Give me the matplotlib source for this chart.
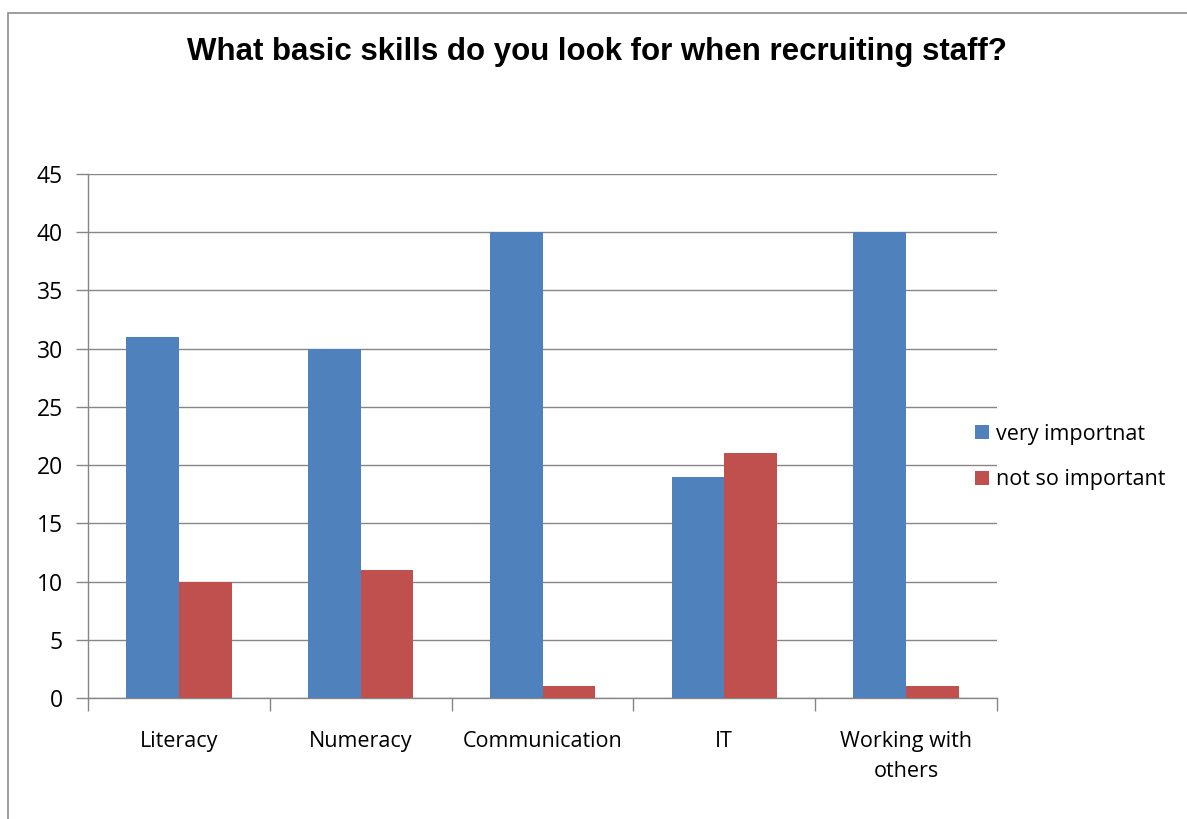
import numpy as np
import matplotlib
matplotlib.use('agg')
import matplotlib.pyplot as plt
from matplotlib.patches import Rectangle

categories = ['Literacy', 'Numeracy', 'Communication', 'IT', 'Working with\nothers']
very_important = [31, 30, 40, 19, 40]
not_so_important = [10, 11, 1, 21, 1]
series_names = ['very importnat', 'not so important']

BLUE = '#4F81BD'
RED = '#C0504D'
GRID = '#868686'
FS = 15.5

plt.rcParams['font.family'] = ['Open Sans', 'DejaVu Sans']

fig = plt.figure(figsize=(11.87, 8.19), dpi=100)
# chart area border (only left and top edges fall inside the image)
fig.patches.append(Rectangle((8 / 1187, -0.1), 1.2, (819 - 13) / 819 + 0.1,
                             transform=fig.transFigure, fill=False,
                             edgecolor='#8c8c8c', lw=1.2))

ax = fig.add_axes([88 / 1187, 121 / 819, 909 / 1187, 524 / 819])

x = np.arange(len(categories))
w = 0.29
ax.bar(x - w / 2, very_important, w, color=BLUE, label=series_names[0], zorder=3)
ax.bar(x + w / 2, not_so_important, w, color=RED, label=series_names[1], zorder=3)

ax.set_xlim(-0.5, len(categories) - 0.5)
ax.set_ylim(0, 45)
ax.set_yticks(range(0, 46, 5))
ax.yaxis.grid(True, color=GRID, lw=1, zorder=0)
ax.set_axisbelow(True)

# category labels between boundary ticks
ax.set_xticks(np.arange(-0.5, len(categories), 1.0))
ax.set_xticklabels([])
ax.set_xticks(x, minor=True)
ax.set_xticklabels(categories, minor=True, fontsize=FS, linespacing=1.55)
ax.tick_params(axis='x', which='minor', length=0, pad=24)
ax.tick_params(axis='x', which='major', length=9, color=GRID, width=1)
ax.tick_params(axis='y', length=9, color=GRID, width=1, labelsize=16.5, pad=9)

for side in ['top', 'right']:
    ax.spines[side].set_visible(False)
for side in ['left', 'bottom']:
    ax.spines[side].set_color(GRID)
    ax.spines[side].set_linewidth(1)

fig.text(597 / 1187, 1 - 52 / 819, 'What basic skills do you look for when recruiting staff?',
         ha='center', va='center', fontsize=22.5, fontweight='bold',
         family=['Liberation Sans', 'DejaVu Sans'])

ax.legend(loc='center left', bbox_to_anchor=(0.955, 0.46), frameon=False,
          fontsize=FS, handlelength=0.65, handleheight=0.65, handletextpad=0.3,
          labelspacing=1.15)

fig.savefig('out.png', dpi=100)
